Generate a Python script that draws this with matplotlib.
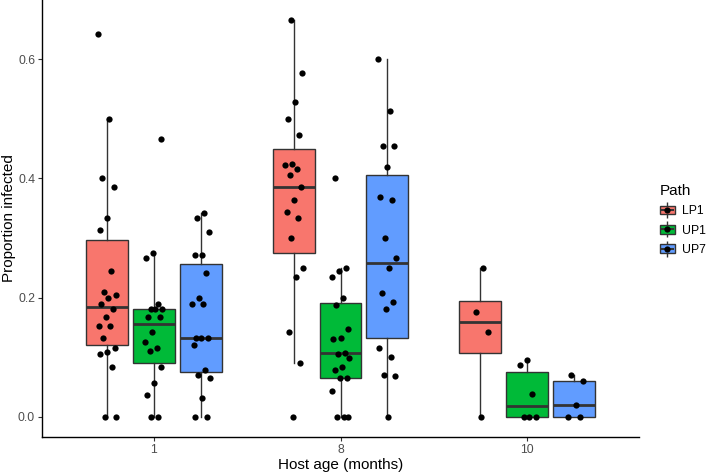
import numpy as np
import matplotlib.pyplot as plt
from matplotlib.patches import Patch
from matplotlib.lines import Line2D
from matplotlib.legend_handler import HandlerTuple

plt.rcParams['font.family'] = ['Liberation Sans', 'DejaVu Sans']

# categories
ages = ['1', '8', '10']
paths = ['LP1', 'UP1', 'UP7']
colors = ['#F8766D', '#00BA38', '#619CFF']

# proportion infected
lp1_1 = [0.643, 0.500, 0.400, 0.385, 0.333, 0.313, 0.245, 0.210, 0.205, 0.200, 0.189,
         0.181, 0.167, 0.153, 0.153, 0.133, 0.116, 0.108, 0.106, 0.083, 0.0, 0.0]
up1_1 = [0.466, 0.275, 0.267, 0.190, 0.181, 0.181, 0.181, 0.167, 0.167, 0.143, 0.125,
         0.116, 0.111, 0.083, 0.056, 0.037, 0.0, 0.0]
up7_1 = [0.342, 0.333, 0.310, 0.272, 0.272, 0.242, 0.200, 0.190, 0.190, 0.132, 0.132,
         0.132, 0.120, 0.079, 0.071, 0.066, 0.031, 0.0, 0.0]

lp1_8 = [0.666, 0.577, 0.528, 0.500, 0.473, 0.425, 0.423, 0.416, 0.405, 0.386, 0.363,
         0.344, 0.333, 0.300, 0.250, 0.235, 0.143, 0.091, 0.0]
up1_8 = [0.400, 0.250, 0.244, 0.235, 0.200, 0.188, 0.147, 0.133, 0.131, 0.107, 0.106,
         0.098, 0.083, 0.078, 0.066, 0.066, 0.044, 0.0, 0.0, 0.0]
up7_8 = [0.600, 0.513, 0.454, 0.454, 0.419, 0.368, 0.363, 0.300, 0.266, 0.250, 0.208,
         0.192, 0.181, 0.115, 0.100, 0.071, 0.069, 0.0]

lp1_10 = [0.250, 0.176, 0.142, 0.0]
up1_10 = [0.095, 0.087, 0.038, 0.0, 0.0, 0.0]
up7_10 = [0.071, 0.060, 0.020, 0.0, 0.0]

data = {
    'LP1': [lp1_1, lp1_8, lp1_10],
    'UP1': [up1_1, up1_8, up1_10],
    'UP7': [up7_1, up7_8, up7_10],
}

dodge = 0.25      # spacing between paths within an age group
box_w = 0.225
edge = '#333333'

fig = plt.figure(figsize=(7.09, 4.74), dpi=100)
ax = fig.add_axes([42/709, 1 - 436.7/474, (639 - 42)/709, 436.7/474])

for j, path in enumerate(paths):
    for i in range(len(ages)):
        vals = np.array(data[path][i])
        pos = i + (j - 1) * dodge
        ax.boxplot(vals, positions=[pos], widths=box_w, patch_artist=True,
                   showfliers=False, showcaps=False, whis=1.5, manage_ticks=False,
                   boxprops=dict(facecolor=colors[j], edgecolor=edge, linewidth=1.0),
                   medianprops=dict(color=edge, linewidth=2.0),
                   whiskerprops=dict(color=edge, linewidth=1.0))
        # deterministic jitter (golden ratio sequence), like geom_jitter
        k = np.arange(len(vals)) + 7 * i + 3 * j
        jit = ((k * 0.618034) % 1 - 0.5) * 0.1
        ax.plot(pos + jit, vals, 'o', color='black', markersize=4.5,
                markeredgewidth=0, zorder=4)

# ggplot-like limits
allv = np.concatenate([np.array(v) for p in paths for v in data[p]])
rng = allv.max() - allv.min()
ax.set_ylim(allv.min() - 0.05 * rng, allv.max() + 0.05 * rng)
ax.set_xlim(-0.6, len(ages) - 1 + 0.6)

ax.set_xticks(range(len(ages)))
ax.set_xticklabels(ages)
ax.set_yticks([0.0, 0.2, 0.4, 0.6])
ax.set_yticklabels(['0.0', '0.2', '0.4', '0.6'])
ax.tick_params(axis='both', colors='#333333', labelcolor='#4D4D4D',
               labelsize=8.8, length=2.75, width=0.8, pad=2.2)

for s in ['top', 'right']:
    ax.spines[s].set_visible(False)
for s in ['left', 'bottom']:
    ax.spines[s].set_color('black')
    ax.spines[s].set_linewidth(1.0)

ax.set_xlabel('Host age (months)', fontsize=11, labelpad=1.5)
ax.set_ylabel('Proportion infected', fontsize=11)
ax.yaxis.set_label_coords(-0.043, 0.5)

# legend with little boxplot keys
handles = []
for c in colors:
    whisk = Line2D([], [], marker='|', markersize=12, markeredgewidth=1.0,
                   color=edge, linestyle='none')
    box = Patch(facecolor=c, edgecolor=edge, linewidth=1.0)
    med = Line2D([], [], marker='_', markersize=10, markeredgewidth=1.5,
                 color=edge, linestyle='none')
    dot = Line2D([], [], marker='o', markersize=4.5, markeredgewidth=0,
                 color='black', linestyle='none')
    handles.append((whisk, box, med, dot))

leg = fig.legend(handles, paths, title='Path', loc='center left',
                 bbox_to_anchor=(655/709, 1 - 220/474), frameon=False,
                 fontsize=8.8, title_fontsize=11, alignment='left',
                 handler_map={tuple: HandlerTuple(ndivide=1, pad=0)},
                 handlelength=1.2, handleheight=0.7, handletextpad=0.6,
                 labelspacing=0.6, borderaxespad=0)

fig.savefig('out.png', dpi=100)
